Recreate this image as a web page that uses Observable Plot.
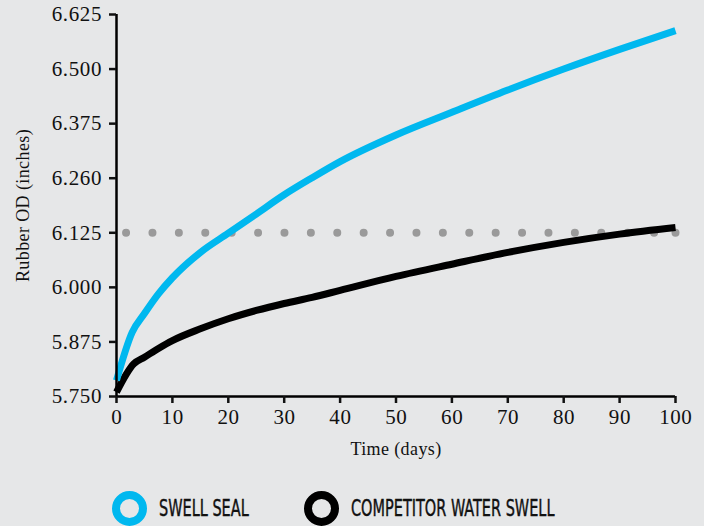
<!DOCTYPE html>
<html>
<head>
<meta charset="utf-8">
<script src="https://cdn.jsdelivr.net/npm/d3@7"></script>
<script src="https://cdn.jsdelivr.net/npm/@observablehq/plot@0.6"></script>
<style>
  html, body { margin: 0; padding: 0; background: #e6e7e8; }
  #wrap { width: 704px; height: 526px; position: relative; overflow: hidden; }
  #chart svg g[aria-label="x-axis label"] text,
  #chart svg g[aria-label="y-axis label"] text { font-size: 18px !important; letter-spacing: 0.4px; }
  #chart svg g[aria-label="text"] text { letter-spacing: 0.6px; }
  .legend { position: absolute; top: 490px; left: 0; width: 704px; height: 36px; }
  .item { position: absolute; top: 0; height: 36px; display: flex; align-items: center; }
  .ring { width: 19px; height: 19px; border-radius: 50%; border-style: solid; border-width: 8px; box-sizing: content-box; }
  .lab { font-family: "Liberation Sans Narrow", "DejaVu Sans Condensed", sans-serif; font-size: 23px; color: #111;
         transform-origin: left center; white-space: nowrap; margin-left: 12px; -webkit-text-stroke: 0.4px #111; }
</style>
</head>
<body>
<div id="wrap">
  <div id="chart"></div>
  <div class="legend" id="legend"></div>
</div>
<script>
const sealDays    = [0,     2.8,   5,     7.5,   10,    15,    20,    25,    30,    35,    40,    50,    60,    70,    80,    90,    100];
const swellSeal   = [5.787, 5.897, 5.940, 5.985, 6.022, 6.080, 6.124, 6.168, 6.212, 6.251, 6.288, 6.349, 6.401, 6.452, 6.500, 6.545, 6.588];
const compDays    = [0,     3.1,   5,     7.5,   10,    15,    20,    25,    30,    35,    40,    50,    60,    70,    80,    90,    100];
const competitor  = [5.760, 5.825, 5.840, 5.860, 5.878, 5.905, 5.928, 5.947, 5.963, 5.977, 5.993, 6.025, 6.053, 6.080, 6.103, 6.122, 6.137];
const threshold   = 6.125;
const yTicks      = [5.75, 5.875, 6.0, 6.125, 6.25, 6.375, 6.5, 6.625];
const yTickLabels = ["5.750", "5.875", "6.000", "6.125", "6.260", "6.375", "6.500", "6.625"];
const xTicks      = [0, 10, 20, 30, 40, 50, 60, 70, 80, 90, 100];
const seriesNames = ["SWELL SEAL", "COMPETITOR WATER SWELL"];
const colors      = ["#00b8ef", "#000000"];

const seal = sealDays.map((d, i) => ({day: d, od: swellSeal[i]}));
const comp = compDays.map((d, i) => ({day: d, od: competitor[i]}));

const chart = Plot.plot({
  width: 704,
  height: 465,
  marginLeft: 116,
  marginRight: 29,
  marginTop: 14,
  marginBottom: 69,
  style: {background: "#e6e7e8", fontFamily: "'Liberation Serif', 'DejaVu Serif', serif", fontSize: "18px", color: "#111", overflow: "visible"},
  x: {domain: [0, 100]},
  y: {domain: [5.75, 6.625]},
  marks: [
    Plot.ruleY([threshold], {x1: 1.8, x2: 100, stroke: "#9a9a9a", strokeWidth: 8, strokeLinecap: "round", strokeDasharray: "0 26.4"}),
    Plot.dot([{day: 100, od: threshold}], {x: "day", y: "od", r: 4, fill: "#9a9a9a"}),
    Plot.line(comp, {x: "day", y: "od", stroke: colors[1], strokeWidth: 7, strokeLinejoin: "round", strokeLinecap: "butt", curve: "monotone-x"}),
    Plot.line(seal, {x: "day", y: "od", stroke: colors[0], strokeWidth: 7, strokeLinejoin: "round", strokeLinecap: "butt", curve: "monotone-x"}),
    Plot.ruleX([0], {stroke: "#000", strokeWidth: 2.5}),
    Plot.ruleY([5.75], {stroke: "#000", strokeWidth: 2.5}),
    Plot.axisX({ticks: xTicks, tickSize: 7, strokeWidth: 2.5, tickPadding: 3, label: null}),
    Plot.axisX({ticks: [], label: "Time (days)", labelAnchor: "center", labelArrow: "none", labelOffset: 58}),
    Plot.axisY({ticks: yTicks, tickFormat: (d) => yTickLabels[yTicks.indexOf(d)], tickSize: 7, strokeWidth: 2.5, tickPadding: 6, label: null}),
    Plot.axisY({ticks: [], label: "Rubber OD (inches)", labelAnchor: "center", labelArrow: "none", labelOffset: 100}),
    Plot.text(yTicks, {x: 0, y: (d) => d, text: (d) => yTickLabels[yTicks.indexOf(d)], textAnchor: "end", dx: -14.5, fontSize: 21, fill: "#111", fontFamily: "'Liberation Serif', serif"}),
    Plot.text(xTicks, {x: (d) => d, y: 5.75, text: (d) => String(d), dy: 21, dx: 0.3, fontSize: 21, fill: "#111", fontFamily: "'Liberation Serif', serif"})
  ]
});
chart.querySelectorAll("[aria-label='x-axis tick label'], [aria-label='y-axis tick label']").forEach(g => g.remove());
document.getElementById("chart").appendChild(chart);

const legend = document.getElementById("legend");
const lefts = [112, 304];
const scales = [0.70, 0.70];
seriesNames.forEach((name, i) => {
  const item = document.createElement("div");
  item.className = "item";
  item.style.left = lefts[i] + "px";
  const ring = document.createElement("div");
  ring.className = "ring";
  ring.style.borderColor = colors[i];
  const lab = document.createElement("span");
  lab.className = "lab";
  lab.textContent = name;
  lab.style.transform = `scaleX(${scales[i]})`;
  item.appendChild(ring);
  item.appendChild(lab);
  legend.appendChild(item);
});
</script>
</body>
</html>
